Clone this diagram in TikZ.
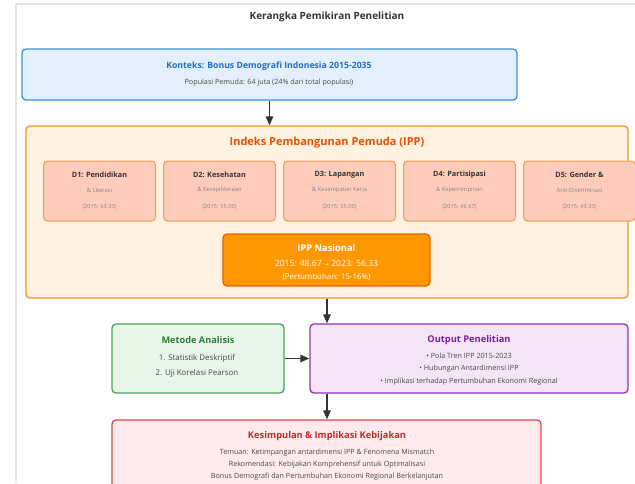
\documentclass[tikz,border=0pt]{standalone}
\usepackage{fontspec}
\setmainfont{Open Sans}
\newfontfamily\symfont{DejaVu Sans}
\usepackage{xcolor}
\usetikzlibrary{arrows.meta,positioning,calc}
\definecolor{ink}{HTML}{333333}
\definecolor{body}{HTML}{4A4A4A}
\definecolor{faint}{HTML}{858585}
\definecolor{frame}{HTML}{E4E4E4}
\definecolor{ctxfill}{HTML}{E3F0FB}
\definecolor{ctxline}{HTML}{3C8EDB}
\definecolor{ctxtext}{HTML}{1F6FC4}
\definecolor{ippfill}{HTML}{FFF2E0}
\definecolor{ippline}{HTML}{F7931E}
\definecolor{ipptext}{HTML}{E65100}
\definecolor{dimfill}{HTML}{FFCCBC}
\definecolor{dimline}{HTML}{F79B4A}
\definecolor{natfill}{HTML}{FF9800}
\definecolor{natline}{HTML}{E8620C}
\definecolor{metfill}{HTML}{E8F5E9}
\definecolor{metline}{HTML}{4CA452}
\definecolor{mettext}{HTML}{2E7D32}
\definecolor{outfill}{HTML}{F3E5F5}
\definecolor{outline}{HTML}{9234B2}
\definecolor{outtext}{HTML}{7B1FA2}
\definecolor{conffill}{HTML}{FFEBEE}
\definecolor{confline}{HTML}{E04848}
\definecolor{conftext}{HTML}{C62828}
\tikzset{
  box/.style={rounded corners=4pt, line width=1.3pt, inner sep=0pt},
  ctxbox/.style={box, draw=ctxline, fill=ctxfill},
  ippbox/.style={box, draw=ippline, fill=ippfill},
  dimbox/.style={box, draw=dimline, fill=dimfill, line width=1pt,
    minimum width=112pt, minimum height=60pt},
  natbox/.style={box, draw=natline, fill=natfill},
  metbox/.style={box, draw=metline, fill=metfill},
  outbox/.style={box, draw=outline, fill=outfill},
  confbox/.style={box, draw=confline, fill=conffill},
  heading/.style={text=ink, font=\bfseries\fontsize{10}{12}\selectfont},
  boxtitle/.style={font=\bfseries\fontsize{9.3}{11}\selectfont},
  dimtitle/.style={text=ink, font=\bfseries\fontsize{7.3}{9}\selectfont},
  dimsub/.style={text=faint, font=\fontsize{5.8}{7}\selectfont},
  dimyear/.style={text=faint, font=\fontsize{5.6}{7}\selectfont},
  bodyline/.style={text=body, font=\fontsize{7.2}{9}\selectfont},
  nattext/.style={text=white, font=\fontsize{8.6}{10}\selectfont},
  flow/.style={-{Triangle[length=9pt,width=7.5pt]}, draw=ink, line width=1.2pt}
}

\begin{document}
\begin{tikzpicture}[x=1pt, y=-1pt]
  \clip (0,0) rectangle (635,483);
  \fill[white] (0,0) rectangle (635,483);
  \draw[frame, line width=1.2pt] (16,483) -- (16,4) -- (635,4);

  \node[heading] (head) at (327,17) {Kerangka Pemikiran Penelitian};

  % context
  \node[ctxbox, minimum width=495pt, minimum height=51pt] (ctx) at (269.5,74.5) {};
  \node[boxtitle, text=ctxtext, font=\bfseries\fontsize{8.7}{10}\selectfont] (ctxhead) at (269,66) {Konteks: Bonus Demografi Indonesia 2015-2035};
  \node[bodyline] (ctxsub) at (269,82.5) {Populasi Pemuda: 64 juta (24\% dari total populasi)};

  % IPP and its dimensions
  \node[ippbox, minimum width=602pt, minimum height=172pt] (ipp) at (327,212) {};
  \node[boxtitle, text=ipptext, font=\bfseries\fontsize{11}{13}\selectfont] (ipphead) at (327,143) {Indeks Pembangunan Pemuda (IPP)};

  \node[dimbox] (d1) at (99.5,191) {};
  \node[dimbox] (d2) at (219.5,191) {};
  \node[dimbox] (d3) at (339.5,191) {};
  \node[dimbox] (d4) at (459.5,191) {};
  \node[dimbox] (d5) at (579.5,191) {};

  \node[dimtitle] (d1t) at (99.5,175) {D1: Pendidikan};
  \node[dimtitle] (d2t) at (219.5,175) {D2: Kesehatan};
  \node[dimtitle] (d3t) at (339.5,175) {D3: Lapangan};
  \node[dimtitle] (d4t) at (459.5,175) {D4: Partisipasi};
  \node[dimtitle] (d5t) at (579.5,175) {D5: Gender \&};

  \node[dimsub] (d1s) at (99.5,190) {\& Literasi};
  \node[dimsub] (d2s) at (219.5,190) {\& Kesejahteraan};
  \node[dimsub] (d3s) at (339.5,190) {\& Kesempatan Kerja};
  \node[dimsub] (d4s) at (459.5,190) {\& Kepemimpinan};
  \node[dimsub] (d5s) at (579.5,190) {Anti-Diskriminasi};

  \node[dimyear] (d1y) at (99.5,207) {(2015: 63.33)};
  \node[dimyear] (d2y) at (219.5,207) {(2015: 55.00)};
  \node[dimyear] (d3y) at (339.5,207) {(2015: 35.00)};
  \node[dimyear] (d4y) at (459.5,207) {(2015: 46.67)};
  \node[dimyear] (d5y) at (579.5,207) {(2015: 43.33)};

  \node[natbox, minimum width=207pt, minimum height=52pt] (nat) at (326.5,260) {};
  \node[nattext, font=\bfseries\fontsize{9.3}{11}\selectfont] (natt) at (326.5,248) {IPP Nasional};
  \node[nattext] (natv) at (326.5,263) {2015: 48.67 {\symfont\fontsize{6}{7}\selectfont →} 2023: 56.33};
  \node[nattext, font=\fontsize{7.9}{9}\selectfont] (natg) at (326.5,277.5) {(Pertumbuhan: 15-16\%)};

  % method and output
  \node[metbox, minimum width=172pt, minimum height=69pt] (met) at (198,358.5) {};
  \node[boxtitle, text=mettext, font=\bfseries\fontsize{9.2}{11}\selectfont] (mett) at (198,340) {Metode Analisis};
  \node[bodyline, font=\fontsize{7.9}{9}\selectfont] (met1) at (197,358) {1. Statistik Deskriptif};
  \node[bodyline, font=\fontsize{7.9}{9}\selectfont] (met2) at (197,373.5) {2. Uji Korelasi Pearson};

  \node[outbox, minimum width=318pt, minimum height=69pt] (out) at (469,358.5) {};
  \node[boxtitle, text=outtext] (outt) at (469,340) {Output Penelitian};
  \node[bodyline] (out1) at (469,356) {• Pola Tren IPP 2015-2023};
  \node[bodyline] (out2) at (469,368.5) {• Hubungan Antardimensi IPP};
  \node[bodyline] (out3) at (469,382) {• Implikasi terhadap Pertumbuhan Ekonomi Regional};

  % conclusion
  \node[confbox, minimum width=429pt, minimum height=90pt] (conf) at (326.5,465) {};
  \node[boxtitle, text=conftext] (conft) at (327,436) {Kesimpulan \& Implikasi Kebijakan};
  \node[bodyline] (conf1) at (327,452.5) {Temuan: Ketimpangan antardimensi IPP \& Fenomena Mismatch};
  \node[bodyline] (conf2) at (327,464.5) {Rekomendasi: Kebijakan Komprehensif untuk Optimalisasi};
  \node[bodyline] (conf3) at (327,477) {Bonus Demografi dan Pertumbuhan Ekonomi Regional Berkelanjutan};

  % arrows
  \draw[flow] (ctx.south) -- (ctx.south |- ipp.north);
  \draw[flow] (ipp.south) -- (ipp.south |- out.north);
  \draw[flow] (met.east) -- (out.west);
  \draw[flow] (ipp.south |- out.south) -- (ipp.south |- conf.north);
\end{tikzpicture}
\end{document}
